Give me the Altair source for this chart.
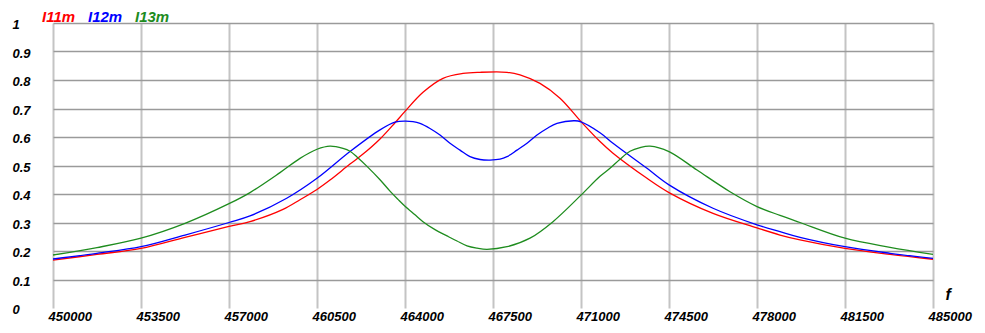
import altair as alt
import pandas as pd

series_names = ["I11m", "I12m", "I13m"]
series_colors = ["#ff0000", "#0000ff", "#1e8c1e"]

red_f = [450000, 451750, 453500, 455250, 457000, 457835, 459148, 459824, 460500, 461017,
         461812, 462330, 463006, 463602, 464000, 464716, 465511, 466307, 466983,
         468057, 468574, 469369, 470165, 471000, 471756, 472273, 473625, 474500, 476250,
         478000, 478915, 479710, 481500, 483290, 485000]
red_v = [0.168, 0.188, 0.209, 0.248, 0.286, 0.303, 0.346, 0.380, 0.416, 0.449,
         0.505, 0.540, 0.593, 0.650, 0.690, 0.757, 0.806, 0.823, 0.827,
         0.827, 0.818, 0.788, 0.736, 0.654, 0.584, 0.543, 0.455, 0.405, 0.332,
         0.281, 0.256, 0.239, 0.209, 0.188, 0.171]

blue_f = [450000, 451750, 453500, 455250, 457000, 457835, 459295, 460500, 461812, 463006,
          463602, 464000, 464318, 464597, 464994, 465392, 465790, 466188, 466585, 466983,
          467381, 467778, 468057, 468455, 468852, 469250, 469648, 470045, 470761, 471000,
          471756, 472273, 473625, 474500, 476250, 478000, 478915, 479710, 481500, 483290,
          485000]
blue_v = [0.172, 0.192, 0.215, 0.256, 0.300, 0.323, 0.385, 0.455, 0.549, 0.625,
          0.652, 0.656, 0.654, 0.648, 0.630, 0.607, 0.578, 0.554, 0.531, 0.521,
          0.519, 0.522, 0.531, 0.554, 0.578, 0.607, 0.630, 0.648, 0.657, 0.653,
          0.615, 0.578, 0.490, 0.432, 0.350, 0.292, 0.268, 0.248, 0.215, 0.192,
          0.174]

green_f = [450000, 451750, 453500, 455250, 457000, 457835, 459028, 459824, 460500, 461017,
           461534, 461812, 462091, 462489, 463006, 463403, 463722, 464000, 464398, 464716,
           465193, 465670, 466068, 466466, 466864, 467261, 468057, 468972, 469886, 471000,
           471756, 472153, 472551, 472949, 473347, 473744, 474500, 475614, 476926, 478000,
           478915, 479710, 481500, 483290, 485000]
green_v = [0.186, 0.212, 0.245, 0.297, 0.366, 0.405, 0.475, 0.525, 0.557, 0.568,
           0.560, 0.550, 0.530, 0.497, 0.450, 0.410, 0.381, 0.357, 0.327, 0.303,
           0.275, 0.253, 0.235, 0.218, 0.210, 0.206, 0.215, 0.245, 0.303, 0.396,
           0.462, 0.490, 0.522, 0.550, 0.563, 0.568, 0.549, 0.484, 0.408, 0.356,
           0.325, 0.300, 0.245, 0.213, 0.188]

x_ticks = [450000, 453500, 457000, 460500, 464000, 467500, 471000, 474500, 478000, 481500, 485000]
y_ticks = [0, 0.1, 0.2, 0.3, 0.4, 0.5, 0.6, 0.7, 0.8, 0.9, 1.0]

rows = []
for name, fs, vs in zip(series_names, [red_f, blue_f, green_f], [red_v, blue_v, green_v]):
    for f, v in zip(fs, vs):
        rows.append({"series": name, "f": f, "v": v})
df = pd.DataFrame(rows)

FONT = "Liberation Sans"

x_enc = alt.X("f:Q", scale=alt.Scale(domain=[450000, 485000], nice=False, zero=False),
              axis=alt.Axis(values=x_ticks, format="d", grid=True, gridColor="#c4c4c4", gridWidth=2,
                            domain=False, ticks=False, tickSize=0, labelAlign="left", labelOffset=-5,
                            labelPadding=2, labelBaseline="top", labelFont=FONT, labelFontSize=13,
                            labelFontStyle="italic", labelFontWeight="bold", labelColor="#000000",
                            labelFlush=False, labelOverlap=False,
                            title="f", titleFont=FONT, titleFontSize=16, titleFontStyle="italic",
                            titleFontWeight="bold", titleColor="#000000", titleX=892, titleY=-9,
                            titleAlign="left", titleBaseline="alphabetic", titleAngle=0))
y_enc = alt.Y("v:Q", scale=alt.Scale(domain=[0, 1], nice=False),
              axis=alt.Axis(values=y_ticks, format=".1~f", grid=True, gridColor="#9a9a9a", gridWidth=1.3,
                            gridOpacity={"condition": {"test": "datum.value === 0", "value": 0}, "value": 1},
                            domain=False, ticks=False, tickSize=0, labelAlign="left", labelPadding=41,
                            labelBaseline="middle", labelOffset=1.5, labelFont=FONT, labelFontSize=13,
                            labelFontStyle="italic", labelFontWeight="bold", labelColor="#000000",
                            labelFlush=False, labelOverlap=False, title=None))

lines = alt.Chart(df).mark_line(strokeWidth=1.3, interpolate="catmull-rom").encode(
    x=x_enc,
    y=y_enc,
    color=alt.Color("series:N", scale=alt.Scale(domain=series_names, range=series_colors), legend=None),
    detail="series:N",
)

layers = [lines]
legend_x = [-11, 35, 82]
for name, col, lx in zip(series_names, series_colors, legend_x):
    t = alt.Chart(pd.DataFrame({"label": [name]})).mark_text(
        align="left", baseline="alphabetic", font=FONT, fontSize=15, fontStyle="italic",
        fontWeight="bold", color=col
    ).encode(x=alt.value(lx), y=alt.value(-1), text="label:N")
    layers.append(t)

chart = alt.layer(*layers).properties(
    width=880, height=285,
    autosize=alt.AutoSizeParams(type="none"),
    padding={"left": 45, "top": 15, "right": 44, "bottom": 17},
    background="white",
).configure_view(stroke=None)

chart.save("out.html", embed_options={"renderer": "svg", "actions": False})
